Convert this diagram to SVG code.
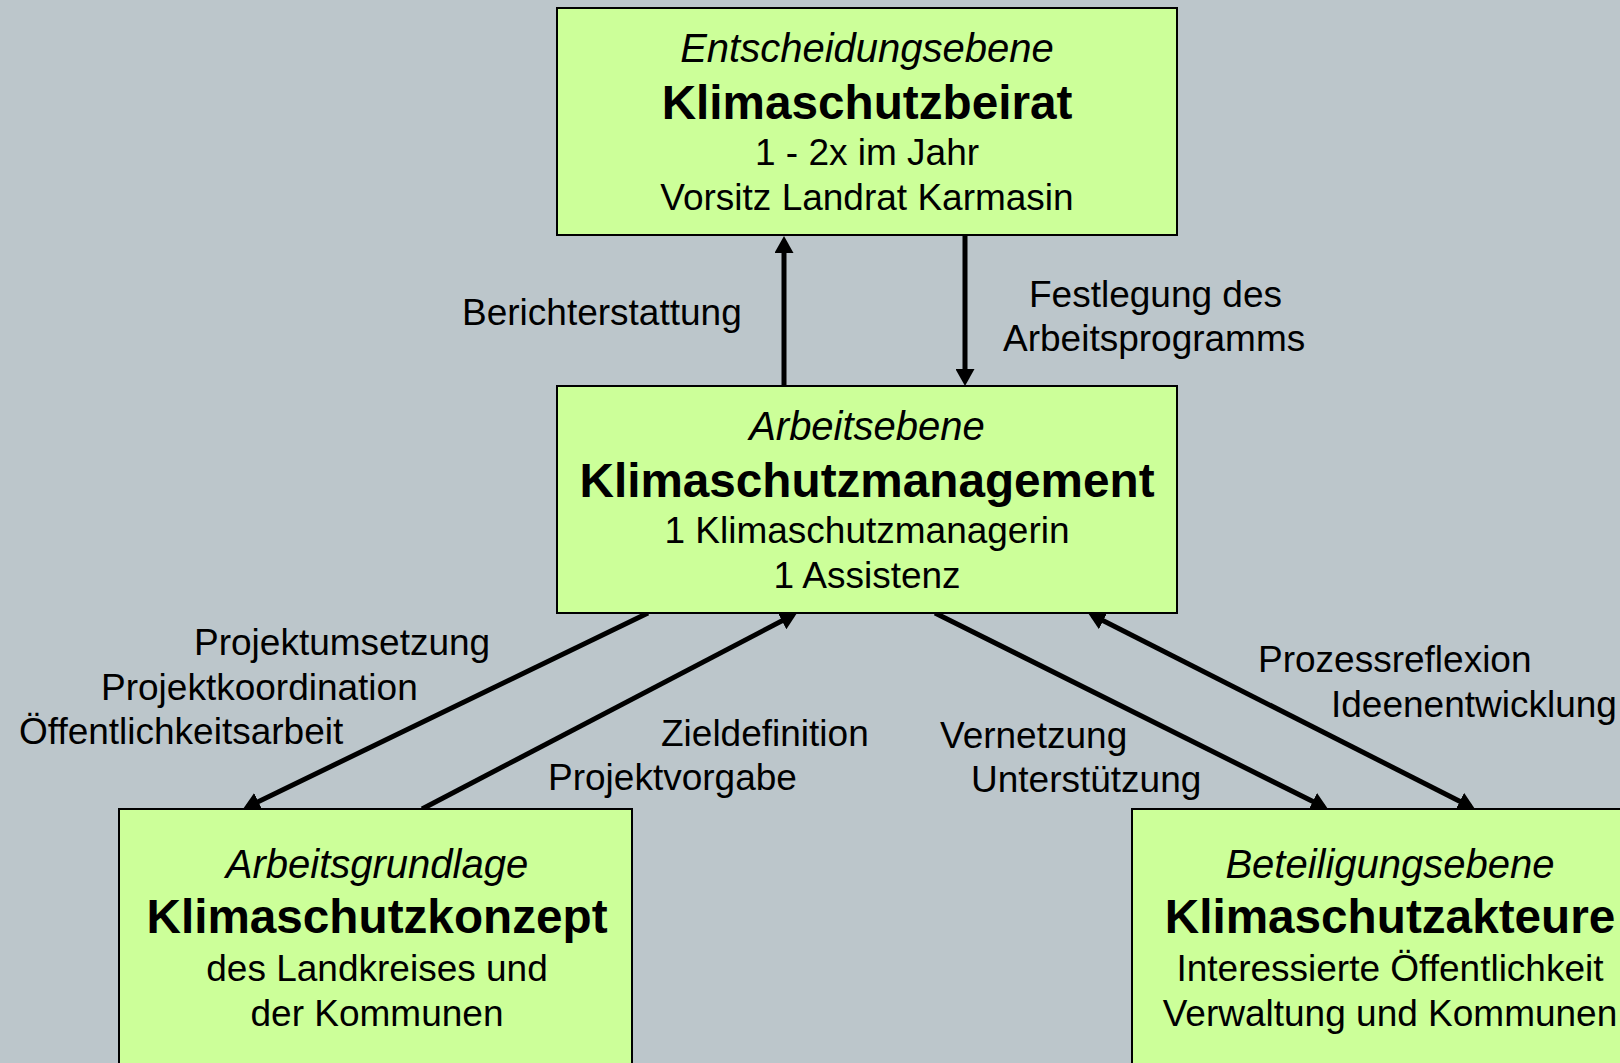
<svg xmlns="http://www.w3.org/2000/svg" width="1620" height="1063" viewBox="0 0 1620 1063">
<style>
.box{fill:#CCFF99;stroke:#000;stroke-width:2}
text{font-family:"Liberation Sans",Arial,sans-serif;fill:#000;text-anchor:middle}
.it{font-style:italic;font-size:40px}
.bd{font-weight:bold;font-size:47.7px}
.tx{font-size:37px}
.lb{font-size:37px;text-anchor:start}
.ar{stroke:#000;stroke-width:5;fill:none;marker-end:url(#ah)}
</style>
<defs>
<marker id="ah" markerUnits="userSpaceOnUse" markerWidth="17" markerHeight="19" refX="12" refY="9.5" orient="auto-start-reverse" viewBox="0 0 17 19">
<path d="M0,0 L17,9.5 L0,19 z" fill="#000"/>
</marker>
</defs>
<rect width="1620" height="1063" fill="#BCC6CB"/>
<g id="connectors">
<line class="ar" x1="784" y1="386" x2="784" y2="241"/>
<line class="ar" x1="965" y1="235" x2="965" y2="381"/>
<line class="ar" x1="648" y1="613" x2="247.5" y2="806.8"/>
<line class="ar" x1="422" y1="809" x2="792.6" y2="615.3"/>
<line class="ar" x1="935" y1="613" x2="1323.5" y2="806.8"/>
<line class="ar" x1="1092.5" y1="615.3" x2="1470.5" y2="806.7" style="marker-start:url(#ah)"/>
</g>
<g id="labels">
<text class="lb" x="462" y="325">Berichterstattung</text>
<text class="lb" x="1029" y="307">Festlegung des</text>
<text class="lb" x="1003" y="351">Arbeitsprogramms</text>
<text class="lb" x="194" y="655">Projektumsetzung</text>
<text class="lb" x="101" y="700">Projektkoordination</text>
<text class="lb" x="19" y="744">Öffentlichkeitsarbeit</text>
<text class="lb" x="661" y="746">Zieldefinition</text>
<text class="lb" x="548" y="790">Projektvorgabe</text>
<text class="lb" x="940" y="748">Vernetzung</text>
<text class="lb" x="971" y="792">Unterstützung</text>
<text class="lb" x="1258" y="672">Prozessreflexion</text>
<text class="lb" x="1331" y="717">Ideenentwicklung</text>
</g>
<g id="node-beirat">
<rect class="box" x="557" y="8" width="620" height="227"/>
<text class="it" x="867" y="62">Entscheidungsebene</text>
<text class="bd" x="867" y="119">Klimaschutzbeirat</text>
<text class="tx" x="867" y="165">1 - 2x im Jahr</text>
<text class="tx" x="867" y="210">Vorsitz Landrat Karmasin</text>
</g>
<g id="node-management">
<rect class="box" x="557" y="386" width="620" height="227"/>
<text class="it" x="867" y="440">Arbeitsebene</text>
<text class="bd" x="867" y="497">Klimaschutzmanagement</text>
<text class="tx" x="867" y="543">1 Klimaschutzmanagerin</text>
<text class="tx" x="867" y="588">1 Assistenz</text>
</g>
<g id="node-konzept">
<rect class="box" x="119" y="809" width="513" height="280"/>
<text class="it" x="377" y="878">Arbeitsgrundlage</text>
<text class="bd" x="377" y="933">Klimaschutzkonzept</text>
<text class="tx" x="377" y="981">des Landkreises und</text>
<text class="tx" x="377" y="1026">der Kommunen</text>
</g>
<g id="node-akteure">
<rect class="box" x="1132" y="809" width="520" height="280"/>
<text class="it" x="1390" y="878">Beteiligungsebene</text>
<text class="bd" x="1390" y="933">Klimaschutzakteure</text>
<text class="tx" x="1390" y="981">Interessierte Öffentlichkeit</text>
<text class="tx" x="1390" y="1026">Verwaltung und Kommunen</text>
</g>
</svg>
